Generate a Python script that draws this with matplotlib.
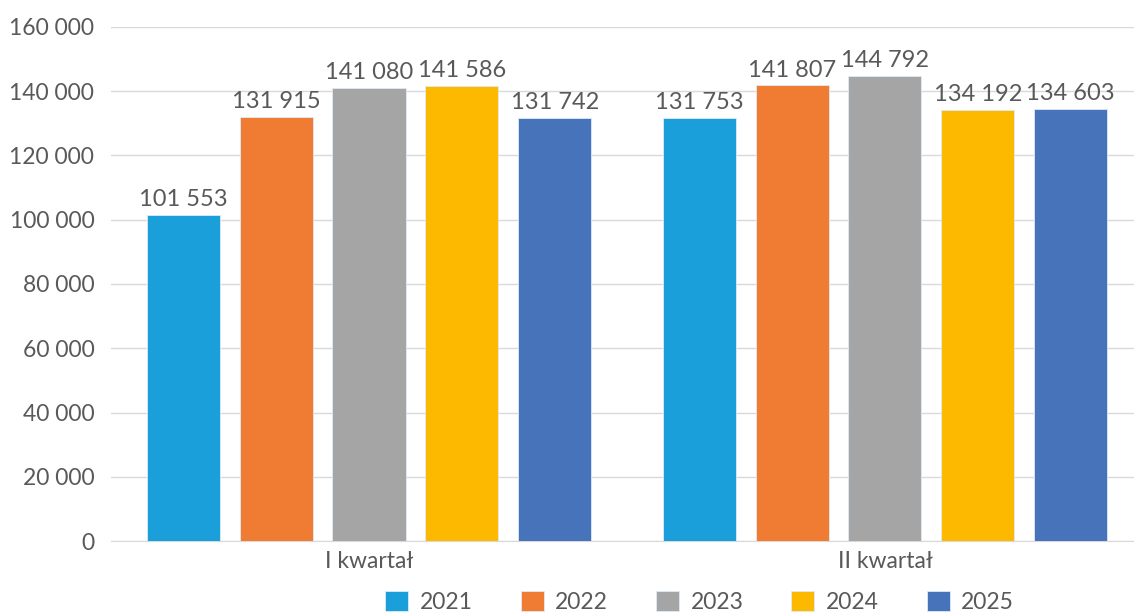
import numpy as np
import matplotlib.pyplot as plt
from matplotlib.ticker import FuncFormatter

plt.rcParams['font.family'] = ['Lato', 'DejaVu Sans']

# dane
quarters = ['I kwartał', 'II kwartał']
years = ['2021', '2022', '2023', '2024', '2025']
values = {
    '2021': [101553, 131753],
    '2022': [131915, 141807],
    '2023': [141080, 144792],
    '2024': [141586, 134192],
    '2025': [131742, 134603],
}
colors = ['#1A9FDA', '#F07C34', '#A5A5A5', '#FDB900', '#4773BA']
yticks = [0, 20000, 40000, 60000, 80000, 100000, 120000, 140000, 160000]

def fmt(v):
    return f'{int(v):,}'.replace(',', ' ')

text_col = '#595959'

fig = plt.figure(figsize=(11.34, 6.12), dpi=100)
ax = fig.add_axes([0.0979, 0.116, 0.9100, 0.8399])

x = np.arange(len(quarters))
step = 0.180
width = 0.1415
for i, y in enumerate(years):
    pos = x + (i - 2) * step
    bars = ax.bar(pos, values[y], width=width, color=colors[i],
                  edgecolor='#DDEBF7', linewidth=0.6, label=y, zorder=3)
    for b, v in zip(bars, values[y]):
        ax.text(b.get_x() + b.get_width() / 2, v + 1500, fmt(v),
                ha='center', va='bottom', fontsize=17, color=text_col)

ax.set_xlim(-0.5, 1.5)
ax.set_ylim(0, 160000)
ax.set_yticks(yticks)
ax.yaxis.set_major_formatter(FuncFormatter(lambda v, p: fmt(v)))
ax.set_xticks(x)
ax.set_xticklabels(quarters)
ax.tick_params(axis='both', length=0, labelsize=16.5, colors=text_col)
ax.tick_params(axis='y', pad=12)
ax.tick_params(axis='x', pad=7)
ax.grid(axis='y', color='#D9D9D9', linewidth=1, zorder=0)
for s in ['top', 'right', 'left']:
    ax.spines[s].set_visible(False)
ax.spines['bottom'].set_color('#D9D9D9')

leg = fig.legend(loc='lower center', bbox_to_anchor=(0.617, -0.035), ncol=5,
                 frameon=False, fontsize=16.5, handlelength=1.0, handleheight=0.95,
                 columnspacing=2.1, handletextpad=0.5)
for t in leg.get_texts():
    t.set_color(text_col)

fig.savefig('out.png', dpi=100)
